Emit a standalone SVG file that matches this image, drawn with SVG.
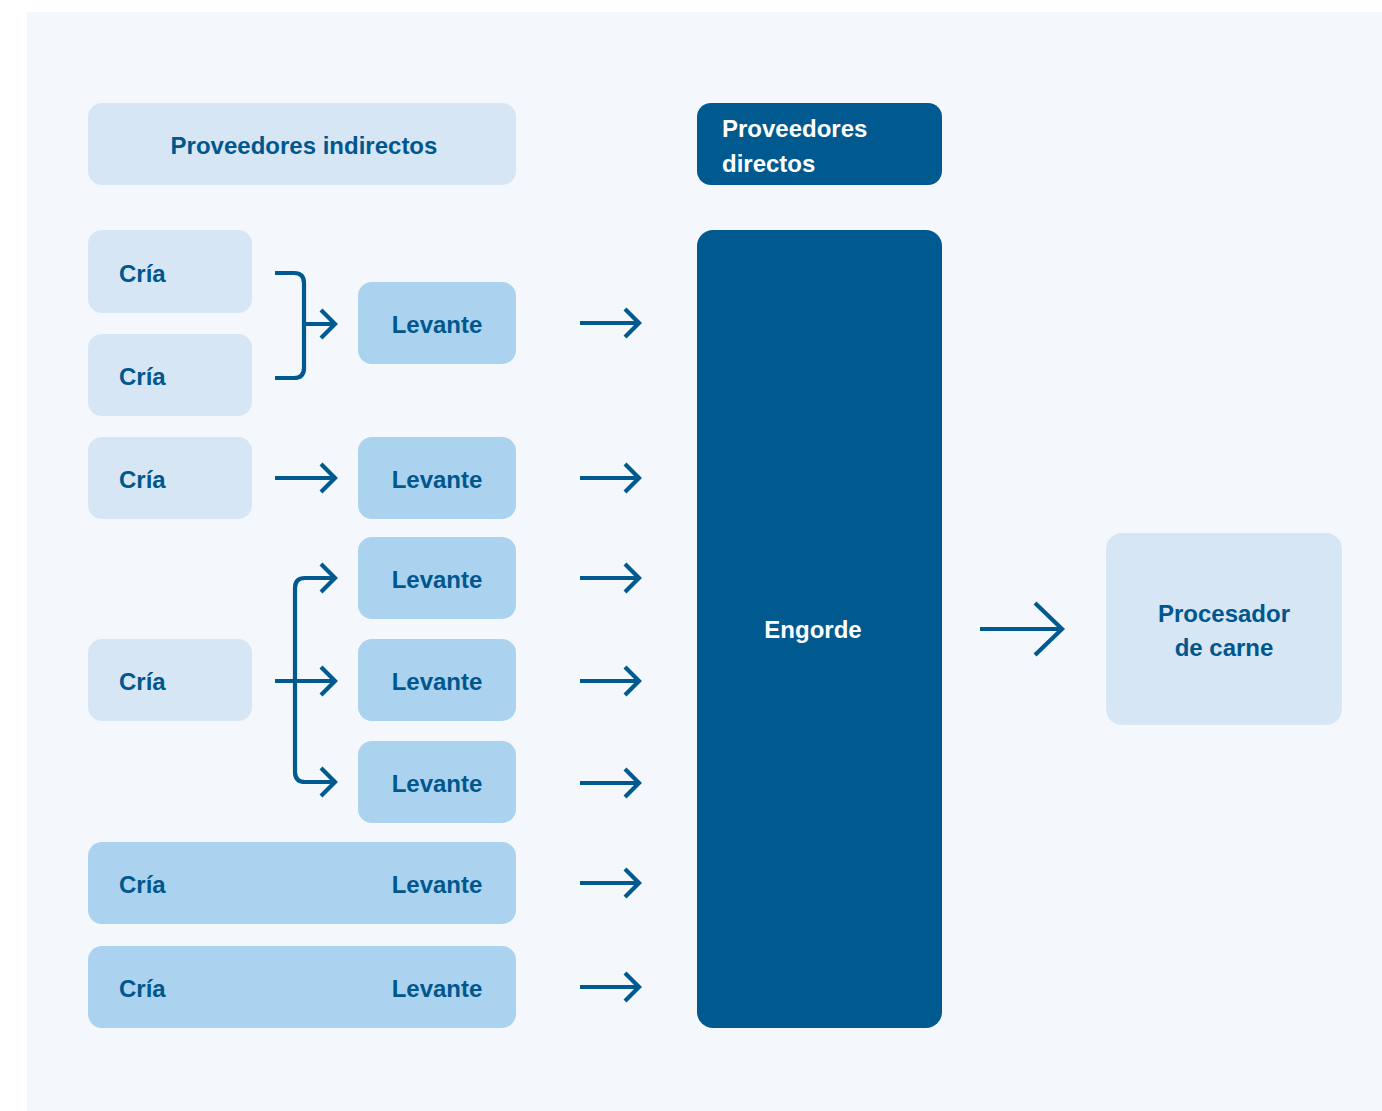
<svg xmlns="http://www.w3.org/2000/svg" width="1382" height="1111" viewBox="0 0 1382 1111">
<defs>
<style>
.bg{fill:#f4f8fd}
.light{fill:#d7e6f5}
.mid{fill:#abd3ef}
.dark{fill:#005a8f}
text{font-family:"Liberation Sans",Arial,sans-serif;font-weight:700;font-size:24px;fill:#00578d}
text.w{fill:#ffffff}
.c{text-anchor:middle}
.ln{fill:none;stroke:#005a8f;stroke-width:4.2;stroke-linejoin:miter}
</style>
</defs>
<rect class="bg" x="27" y="12" width="1355" height="1099"/>
<g id="prov-indirectos"><rect class="light" x="88" y="103" width="428" height="82" rx="14"/><text class="c" x="304" y="154">Proveedores indirectos</text></g>
<g id="prov-directos"><rect class="dark" x="697" y="103" width="245" height="82" rx="14"/><text class="w" x="722" y="137">Proveedores</text><text class="w" x="722" y="172">directos</text></g>
<g id="cria1"><rect class="light" x="88" y="230" width="164" height="83" rx="14"/><text x="119" y="282">Cría</text></g>
<g id="cria2"><rect class="light" x="88" y="334" width="164" height="82" rx="14"/><text x="119" y="385">Cría</text></g>
<g id="levante1"><rect class="mid" x="358" y="282" width="158" height="82" rx="14"/><text class="c" x="437" y="333">Levante</text></g>
<g id="cria3"><rect class="light" x="88" y="437" width="164" height="82" rx="14"/><text x="119" y="488">Cría</text></g>
<g id="levante2"><rect class="mid" x="358" y="437" width="158" height="82" rx="14"/><text class="c" x="437" y="488">Levante</text></g>
<g id="levante3"><rect class="mid" x="358" y="537" width="158" height="82" rx="14"/><text class="c" x="437" y="588">Levante</text></g>
<g id="cria4"><rect class="light" x="88" y="639" width="164" height="82" rx="14"/><text x="119" y="690">Cría</text></g>
<g id="levante4"><rect class="mid" x="358" y="639" width="158" height="82" rx="14"/><text class="c" x="437" y="690">Levante</text></g>
<g id="levante5"><rect class="mid" x="358" y="741" width="158" height="82" rx="14"/><text class="c" x="437" y="792">Levante</text></g>
<g id="cria-levante1"><rect class="mid" x="88" y="842" width="428" height="82" rx="14"/><text x="119" y="893">Cría</text><text class="c" x="437" y="893">Levante</text></g>
<g id="cria-levante2"><rect class="mid" x="88" y="946" width="428" height="82" rx="14"/><text x="119" y="997">Cría</text><text class="c" x="437" y="997">Levante</text></g>
<g id="engorde"><rect class="dark" x="697" y="230" width="245" height="798" rx="16"/><text class="w c" x="813" y="638">Engorde</text></g>
<g id="procesador"><rect class="light" x="1106" y="533" width="236" height="192" rx="16"/><text class="c" x="1224" y="622">Procesador</text><text class="c" x="1224" y="656">de carne</text></g>
<g id="connectors">
<path class="ln" d="M275 273 H294 Q304 273 304 283 V368 Q304 378 294 378 H275"/>
<path class="ln" d="M304 324 H334 M321 310 L335 324 L321 338"/>
<path class="ln" d="M275 478 H334 M321 464 L335 478 L321 492"/>
<path class="ln" d="M334 578 H305 Q295 578 295 588 V772 Q295 782 305 782 H334"/>
<path class="ln" d="M321 564 L335 578 L321 592 M321 768 L335 782 L321 796"/>
<path class="ln" d="M275 681 H334 M321 667 L335 681 L321 695"/>
<g id="to-engorde">
<path class="ln" d="M580 323 H638 M625 309 L639 323 L625 337"/>
<path class="ln" d="M580 478 H638 M625 464 L639 478 L625 492"/>
<path class="ln" d="M580 578 H638 M625 564 L639 578 L625 592"/>
<path class="ln" d="M580 681 H638 M625 667 L639 681 L625 695"/>
<path class="ln" d="M580 783 H638 M625 769 L639 783 L625 797"/>
<path class="ln" d="M580 883 H638 M625 869 L639 883 L625 897"/>
<path class="ln" d="M580 987 H638 M625 973 L639 987 L625 1001"/>
</g>
<path class="ln" d="M980 629 H1061 M1035 603 L1062 629 L1035 655"/>
</g>
</svg>
